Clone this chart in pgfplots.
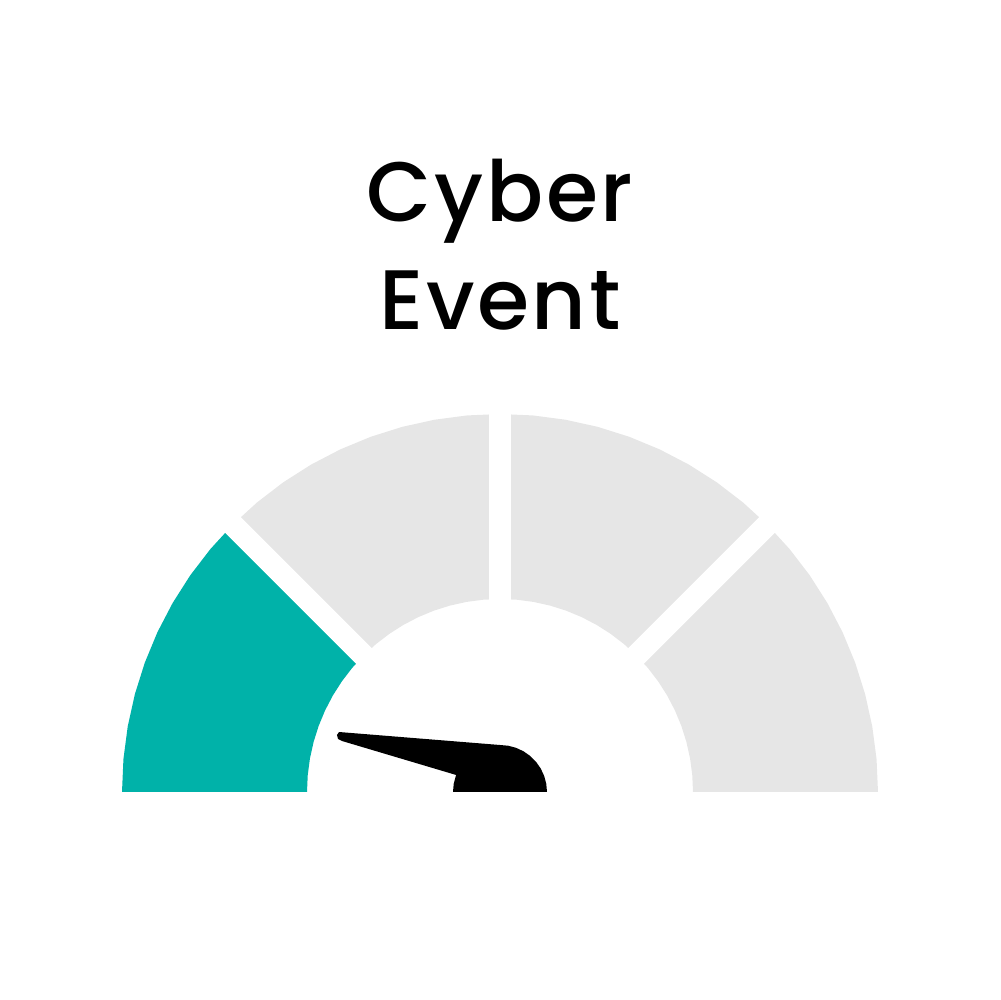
\documentclass[border=0pt]{standalone}
\usepackage{pgfplots}
\pgfplotsset{compat=1.18}
\usepackage{fontspec}
\setmainfont{Poppins}
\newfontfamily\titlefont{Poppins Medium}[LetterSpace=3]
\definecolor{gteal}{HTML}{00B2A9}
\definecolor{lgray}{HTML}{E6E6E6}
\begin{document}
\begin{tikzpicture}
\begin{axis}[width=10cm,height=10cm,scale only axis,
  xmin=-500,xmax=500,ymin=-208,ymax=792,hide axis,clip=false]
\addplot[draw=none,forget plot] coordinates {(-500,-208)(500,792)};
% teal segment (180 to 135 deg)
\addplot[fill=gteal,draw=none,data cs=polar] coordinates {
(180,378)(175,378)(170,378)(165,378)(160,378)(155,378)(150,378)(145,378)(140,378)(135,378)
(135,193)(140,193)(145,193)(150,193)(155,193)(160,193)(165,193)(170,193)(175,193)(180,193)};
% gray segments (135 to 0 deg)
\addplot[fill=lgray,draw=none,data cs=polar] coordinates {
(135,378)(130,378)(125,378)(120,378)(115,378)(110,378)(105,378)(100,378)(95,378)(90,378)
(85,378)(80,378)(75,378)(70,378)(65,378)(60,378)(55,378)(50,378)(45,378)(40,378)
(35,378)(30,378)(25,378)(20,378)(15,378)(10,378)(5,378)(0,378)
(0,193)(5,193)(10,193)(15,193)(20,193)(25,193)(30,193)(35,193)(40,193)(45,193)
(50,193)(55,193)(60,193)(65,193)(70,193)(75,193)(80,193)(85,193)(90,193)(95,193)
(100,193)(105,193)(110,193)(115,193)(120,193)(125,193)(130,193)(135,193)};
% gaps
\addplot[white,line width=0.22cm,data cs=polar] coordinates {(135,185)(135,400)};
\addplot[white,line width=0.22cm,data cs=polar] coordinates {(90,185)(90,400)};
\addplot[white,line width=0.22cm,data cs=polar] coordinates {(45,185)(45,400)};
% needle
\addplot[fill=black,draw=none,data cs=polar] coordinates {
(159.56,171.8)(160.72,172.7)(161.88,170.4)(162.11,166.0)
(158.8,47)(160,47)(170,47)(180,47)
(0,47)(10,47)(20,47)(30,47)(40,47)(50,47)(60,47)(70,47)(80,47)(90,47)};
\node[anchor=base,font=\titlefont\fontsize{24}{29}\selectfont] at (axis cs:0,570) {Cyber};
\node[anchor=base,font=\titlefont\fontsize{24}{29}\selectfont] at (axis cs:0,462) {Event};
\end{axis}
\end{tikzpicture}
\end{document}
